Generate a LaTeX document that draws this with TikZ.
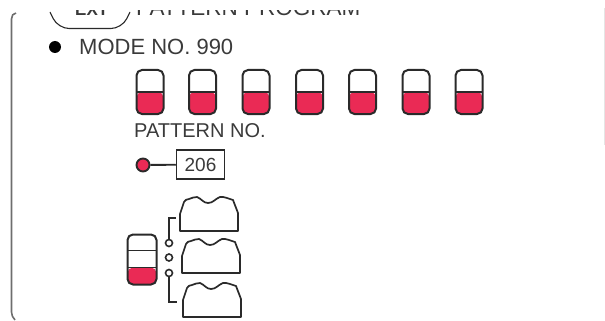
\documentclass[tikz,border=0pt]{standalone}
\usepackage{fontspec}
\setmainfont{Liberation Sans}
\usepackage{xcolor}
\definecolor{ink}{HTML}{2A2A2A}
\definecolor{txt}{HTML}{3A3A3A}
\definecolor{swred}{HTML}{EA2A55}
\definecolor{framegray}{HTML}{6E6E6E}
\tikzset{
  patsw/.style={draw=ink, fill=white, line width=2pt, rounded corners=5.5pt,
                minimum width=27pt, minimum height=44pt, inner sep=0pt,
                path picture={
                  \fill[swred] (path picture bounding box.west) rectangle (path picture bounding box.south east);
                  \draw[ink, line width=1.5pt] (path picture bounding box.west) -- (path picture bounding box.east);
                }},
  lamp/.style={circle, draw=ink, fill=white, line width=1.6pt, minimum size=7pt, inner sep=0pt},
  lbl/.style={font=\fontsize{#1}{#1}\selectfont, text=txt, inner sep=0pt, anchor=base west},
  conn/.style={draw=ink, line width=1.9pt},
  display/.pic={
    \draw[conn, line width=1.7pt, line join=round] (0,0) -- (0,-17) -- (4,-29) to[out=70,in=190] (9,-32)
      to[out=10,in=170] (17,-34) to[out=-20,in=180] (28,-28) to[out=0,in=200] (40,-34)
      to[out=20,in=175] (47,-33) -- (53,-31) -- (58,-18) -- (58,0) -- cycle;
  }
}
\begin{document}
\begin{tikzpicture}[x=1pt,y=-1pt]
  \useasboundingbox (0,0) rectangle (605,321);
  % cut-off heading
  \begin{scope}
    \clip (0,11) rectangle (605,30);
    \node[lbl=17] (exttxt) at (75,16) {\bfseries EXT};
    \node[lbl=22.5] (headtxt) at (136,16) {PATTERN PROGRAM};
  \end{scope}
  \draw[ink, line width=1.1pt, rounded corners=11pt] (50,12) -- (58,28.5) -- (122,28.5) -- (130,12);
  % frame
  \draw[framegray, line width=1.6pt] (16,13) to[out=180,in=90] (11.5,19) -- (11.5,312) to[out=-90,in=130] (15,320);
  \draw[black!10, line width=1pt] (604,8) -- (604,145);
  % mode line
  \fill[black] (55,47) circle (6);
  \node[lbl=22] (mode) at (79,55) {MODE NO. 990};
  % pattern switches
  \foreach \n/\x in {1/150,2/202.5,3/256,4/309.5,5/362.5,6/416,7/469}
    \node[patsw] (sw\n) at (\x,92) {};
  \node[lbl=20] (patno) at (134,137.5) {PATTERN NO.};
  % pattern number
  \node[circle, draw=ink, fill=swred, line width=1.9pt, minimum size=13pt, inner sep=0pt] (led) at (143,165) {};
  \node[draw=ink, line width=1.5pt, minimum width=48pt, minimum height=29pt, inner sep=0pt,
        font=\fontsize{19}{19}\selectfont, text=txt] (numbox) at (200.5,164.5) {206};
  \draw[conn] (led) -- (numbox);
  % selector
  \node[draw=ink, fill=white, line width=2pt, rounded corners=5.5pt, minimum width=29pt, minimum height=50pt,
        inner sep=0pt, path picture={
          \fill[swred] ([yshift=17pt]path picture bounding box.south west) rectangle (path picture bounding box.south east);
          \draw[ink, line width=1.4pt] ([yshift=17pt]path picture bounding box.south west) -- ([yshift=17pt]path picture bounding box.south east);
          \draw[ink, line width=1.4pt] ([yshift=-16pt]path picture bounding box.north west) -- ([yshift=-16pt]path picture bounding box.north east);
        }] (selsw) at (142,259.5) {};
  \node[lamp] (pos1) at (169,243) {};
  \node[lamp] (pos2) at (169,257.5) {};
  \node[lamp] (pos3) at (169,273) {};
  \pic at (180,231) {display};
  \pic at (182,273) {display};
  \pic at (183,317) {display};
  \coordinate (disptop) at (176,218);
  \coordinate (dispbot) at (177,302);
  \draw[conn] (pos1) |- (disptop);
  \draw[conn] (pos3) |- (dispbot);
\end{tikzpicture}
\end{document}
